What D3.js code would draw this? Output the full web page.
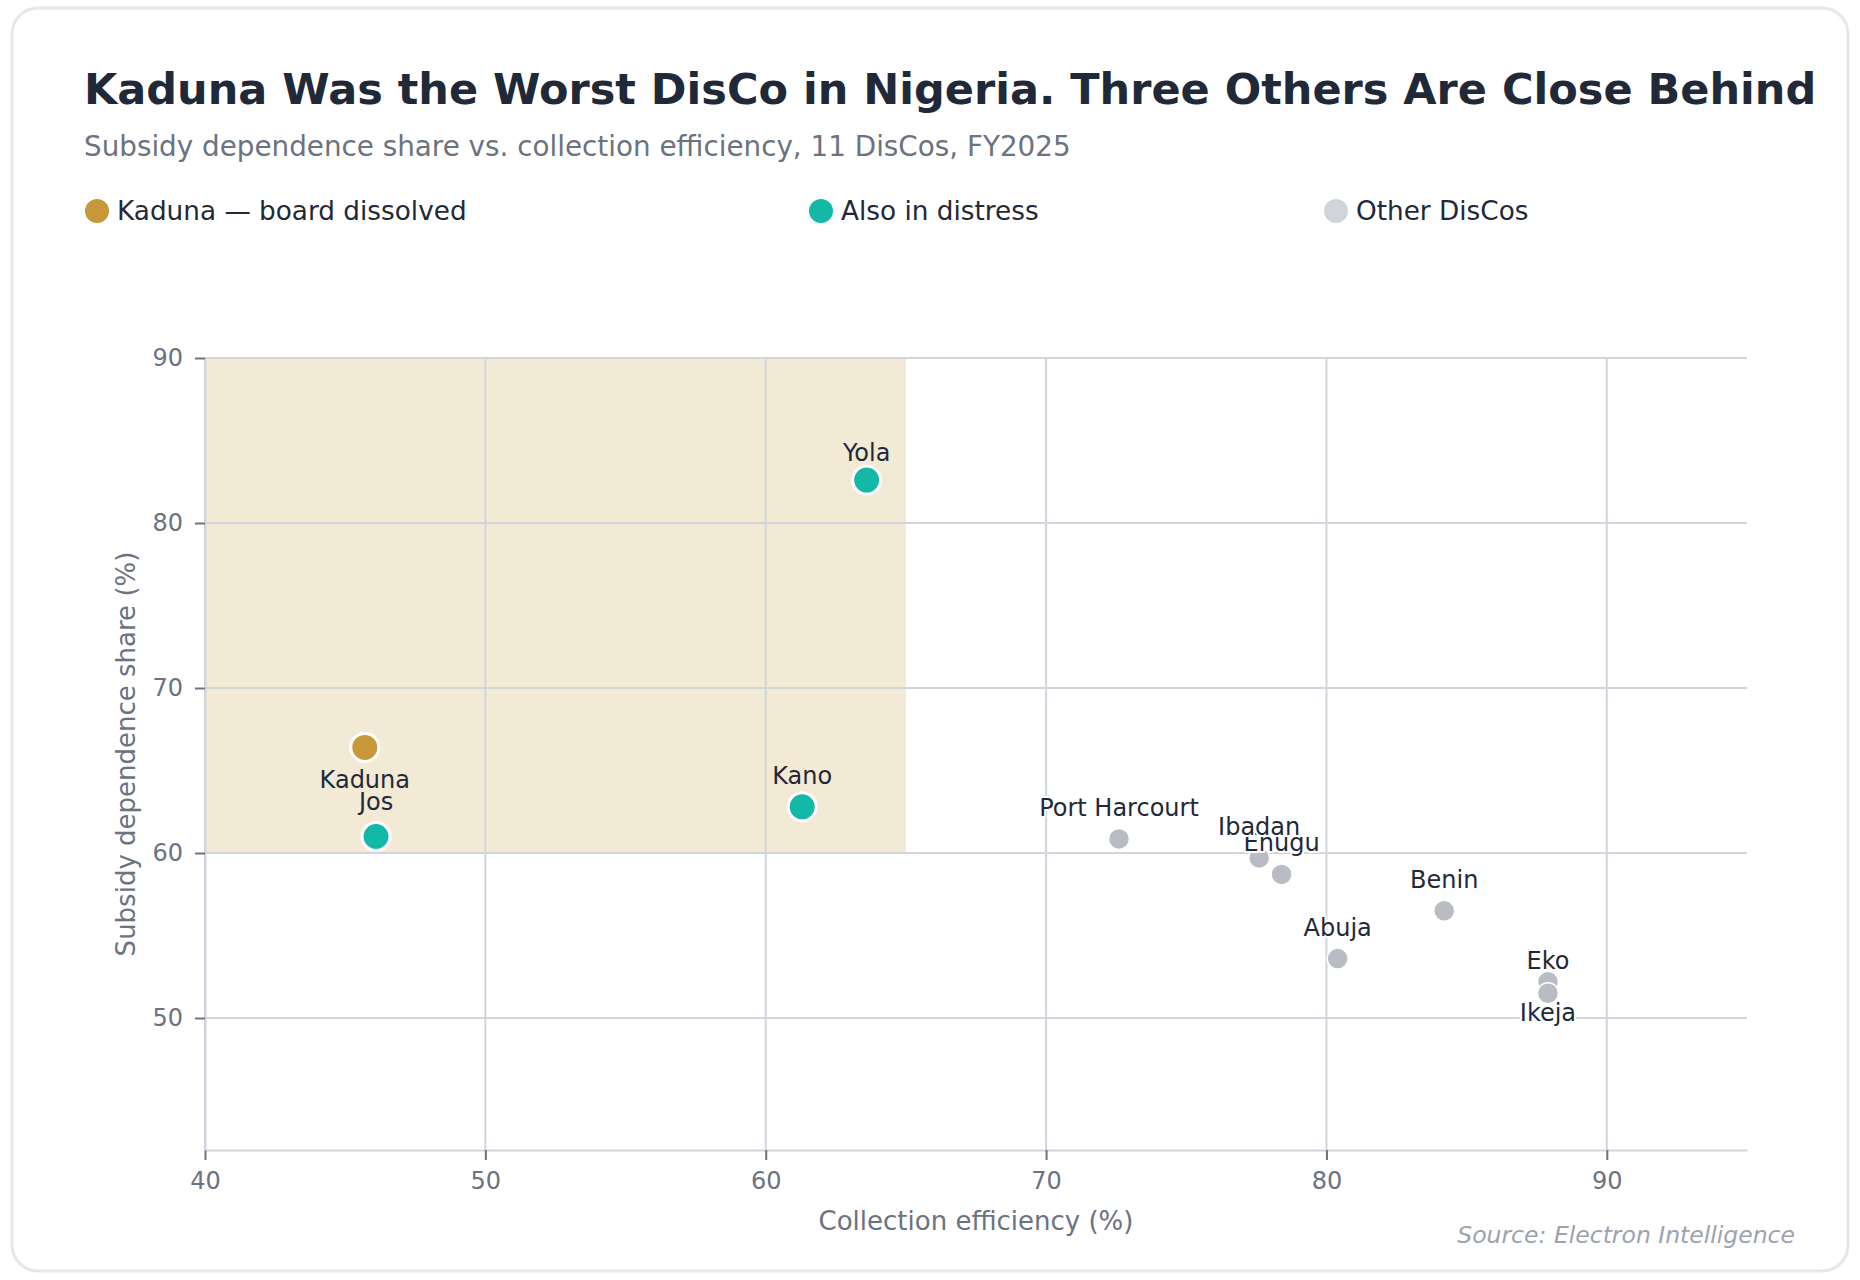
<!DOCTYPE html>
<html><head><meta charset="utf-8">
<script src="https://cdn.jsdelivr.net/npm/d3@7"></script>
<style>
html,body{margin:0;padding:0;background:#fff;}
svg{display:block;font-family:"DejaVu Sans",sans-serif;}
</style></head>
<body>
<svg id="chart" width="1860" height="1280"></svg>
<script>
const names = ["Kaduna","Jos","Kano","Yola","Port Harcourt","Enugu","Ibadan","Benin","Abuja","Eko","Ikeja"];
const efficiency = [45.7,46.1,61.3,63.6,72.6,78.4,77.6,84.2,80.4,87.9,87.9];
const subsidy = [66.4,61.0,62.8,82.6,60.85,58.7,59.7,56.5,53.6,52.2,51.5];
const groups = ["kaduna","distress","distress","distress","other","other","other","other","other","other","other"];
const xTicks = [40,50,60,70,80,90];
const yTicks = [50,60,70,80,90];
const legendLabels = ["Kaduna — board dissolved","Also in distress","Other DisCos"];
const legendKeys = ["kaduna","distress","other"];

// drawing config
const colors = {kaduna:"#c8973a", distress:"#14b8a6", other:"#b9bcc5"};
const legendColors = {kaduna:"#c8973a", distress:"#14b8a6", other:"#d1d5db"};
const zoneFill = "#f3ead6";
const labelDy = {Kaduna:41, Jos:-27, Yola:-19, Eko:-13, Ikeja:28};
const defaultDy = -23;

const svg = d3.select("#chart");
svg.append("rect").attr("x",12).attr("y",8).attr("width",1836).attr("height",1263)
  .attr("rx",26).attr("fill","#fff").attr("stroke","#e5e7eb").attr("stroke-width",3);

svg.append("text").attr("x",84).attr("y",104).attr("font-size",43).attr("font-weight","bold")
  .attr("fill","#1f2937").text("Kaduna Was the Worst DisCo in Nigeria. Three Others Are Close Behind");
svg.append("text").attr("x",84).attr("y",156).attr("font-size",27.8).attr("fill","#6b7280")
  .text("Subsidy dependence share vs. collection efficiency, 11 DisCos, FY2025");

const legX = [97,821,1336];
legendKeys.forEach((k,i)=>{
  svg.append("circle").attr("cx",legX[i]).attr("cy",211).attr("r",12).attr("fill",legendColors[k]);
  svg.append("text").attr("x",legX[i]+20).attr("y",219.5).attr("font-size",26.3).attr("fill","#1f2937").text(legendLabels[i]);
});

const x = d3.scaleLinear().domain([40,95]).range([205,1747]);
const y = d3.scaleLinear().domain([42,90]).range([1150,358]);

const g = svg.append("g");
g.append("rect").attr("x",x(40)).attr("y",y(90)).attr("width",x(65)-x(40)).attr("height",y(60)-y(90))
  .attr("fill",zoneFill);
g.selectAll(".vg").data(xTicks).join("line").attr("x1",d=>x(d)).attr("x2",d=>x(d))
  .attr("y1",y(90)).attr("y2",y(42)).attr("stroke","#d1d5db").attr("stroke-width",2);
g.selectAll(".hg").data(yTicks).join("line").attr("x1",x(40)).attr("x2",x(95))
  .attr("y1",d=>y(d)).attr("y2",d=>y(d)).attr("stroke","#d1d5db").attr("stroke-width",2);

const xAxis = g.append("g").attr("transform",`translate(0,${y(42)})`)
  .call(d3.axisBottom(x).tickValues(xTicks).tickSize(10).tickPadding(12).tickSizeOuter(0));
const yAxis = g.append("g").attr("transform",`translate(${x(40)},0)`)
  .call(d3.axisLeft(y).tickValues(yTicks).tickSize(10).tickPadding(12).tickSizeOuter(0));
[xAxis,yAxis].forEach(a=>{
  a.select(".domain").attr("stroke","#d1d5db").attr("stroke-width",2);
  a.selectAll(".tick line").attr("stroke","#6b7280").attr("stroke-width",2);
  a.selectAll(".tick text").attr("fill","#6b7280").attr("font-size",24).attr("font-family","DejaVu Sans");
});

svg.append("text").attr("x",(x(40)+x(95))/2).attr("y",1230).attr("text-anchor","middle")
  .attr("font-size",26).attr("fill","#6b7280").text("Collection efficiency (%)");
svg.append("text").attr("transform",`translate(135,${(y(42)+y(90))/2}) rotate(-90)`).attr("text-anchor","middle")
  .attr("font-size",26).attr("fill","#6b7280").text("Subsidy dependence share (%)");

const data = names.map((n,i)=>({n,x:efficiency[i],y:subsidy[i],g:groups[i]}));
const order = [...data].sort((a,b)=>(a.g==="other"?0:1)-(b.g==="other"?0:1));
g.selectAll(".pt").data(order).join("circle")
  .attr("cx",d=>x(d.x)).attr("cy",d=>y(d.y))
  .attr("r",d=>d.g==="other"?10.5:14)
  .attr("fill",d=>colors[d.g]).attr("stroke","#fff").attr("stroke-width",d=>d.g==="other"?1.5:3);
const inZone = d => d.x <= 65 && d.y <= 90 && d.y >= 60;
g.selectAll(".lb").data(data).join("text")
  .attr("x",d=>x(d.x)).attr("y",d=>y(d.y)+(labelDy[d.n]!==undefined?labelDy[d.n]:defaultDy))
  .attr("text-anchor","middle").attr("font-size",24).attr("fill","#1f2937")
  .attr("stroke",d=>inZone(d)?zoneFill:"#fff").attr("stroke-width",4).attr("paint-order","stroke")
  .attr("stroke-linejoin","round")
  .text(d=>d.n);

svg.append("text").attr("x",1795).attr("y",1243).attr("text-anchor","end").attr("font-style","italic")
  .attr("font-size",23.5).attr("fill","#9ca3af").text("Source: Electron Intelligence");
</script>
</body></html>
